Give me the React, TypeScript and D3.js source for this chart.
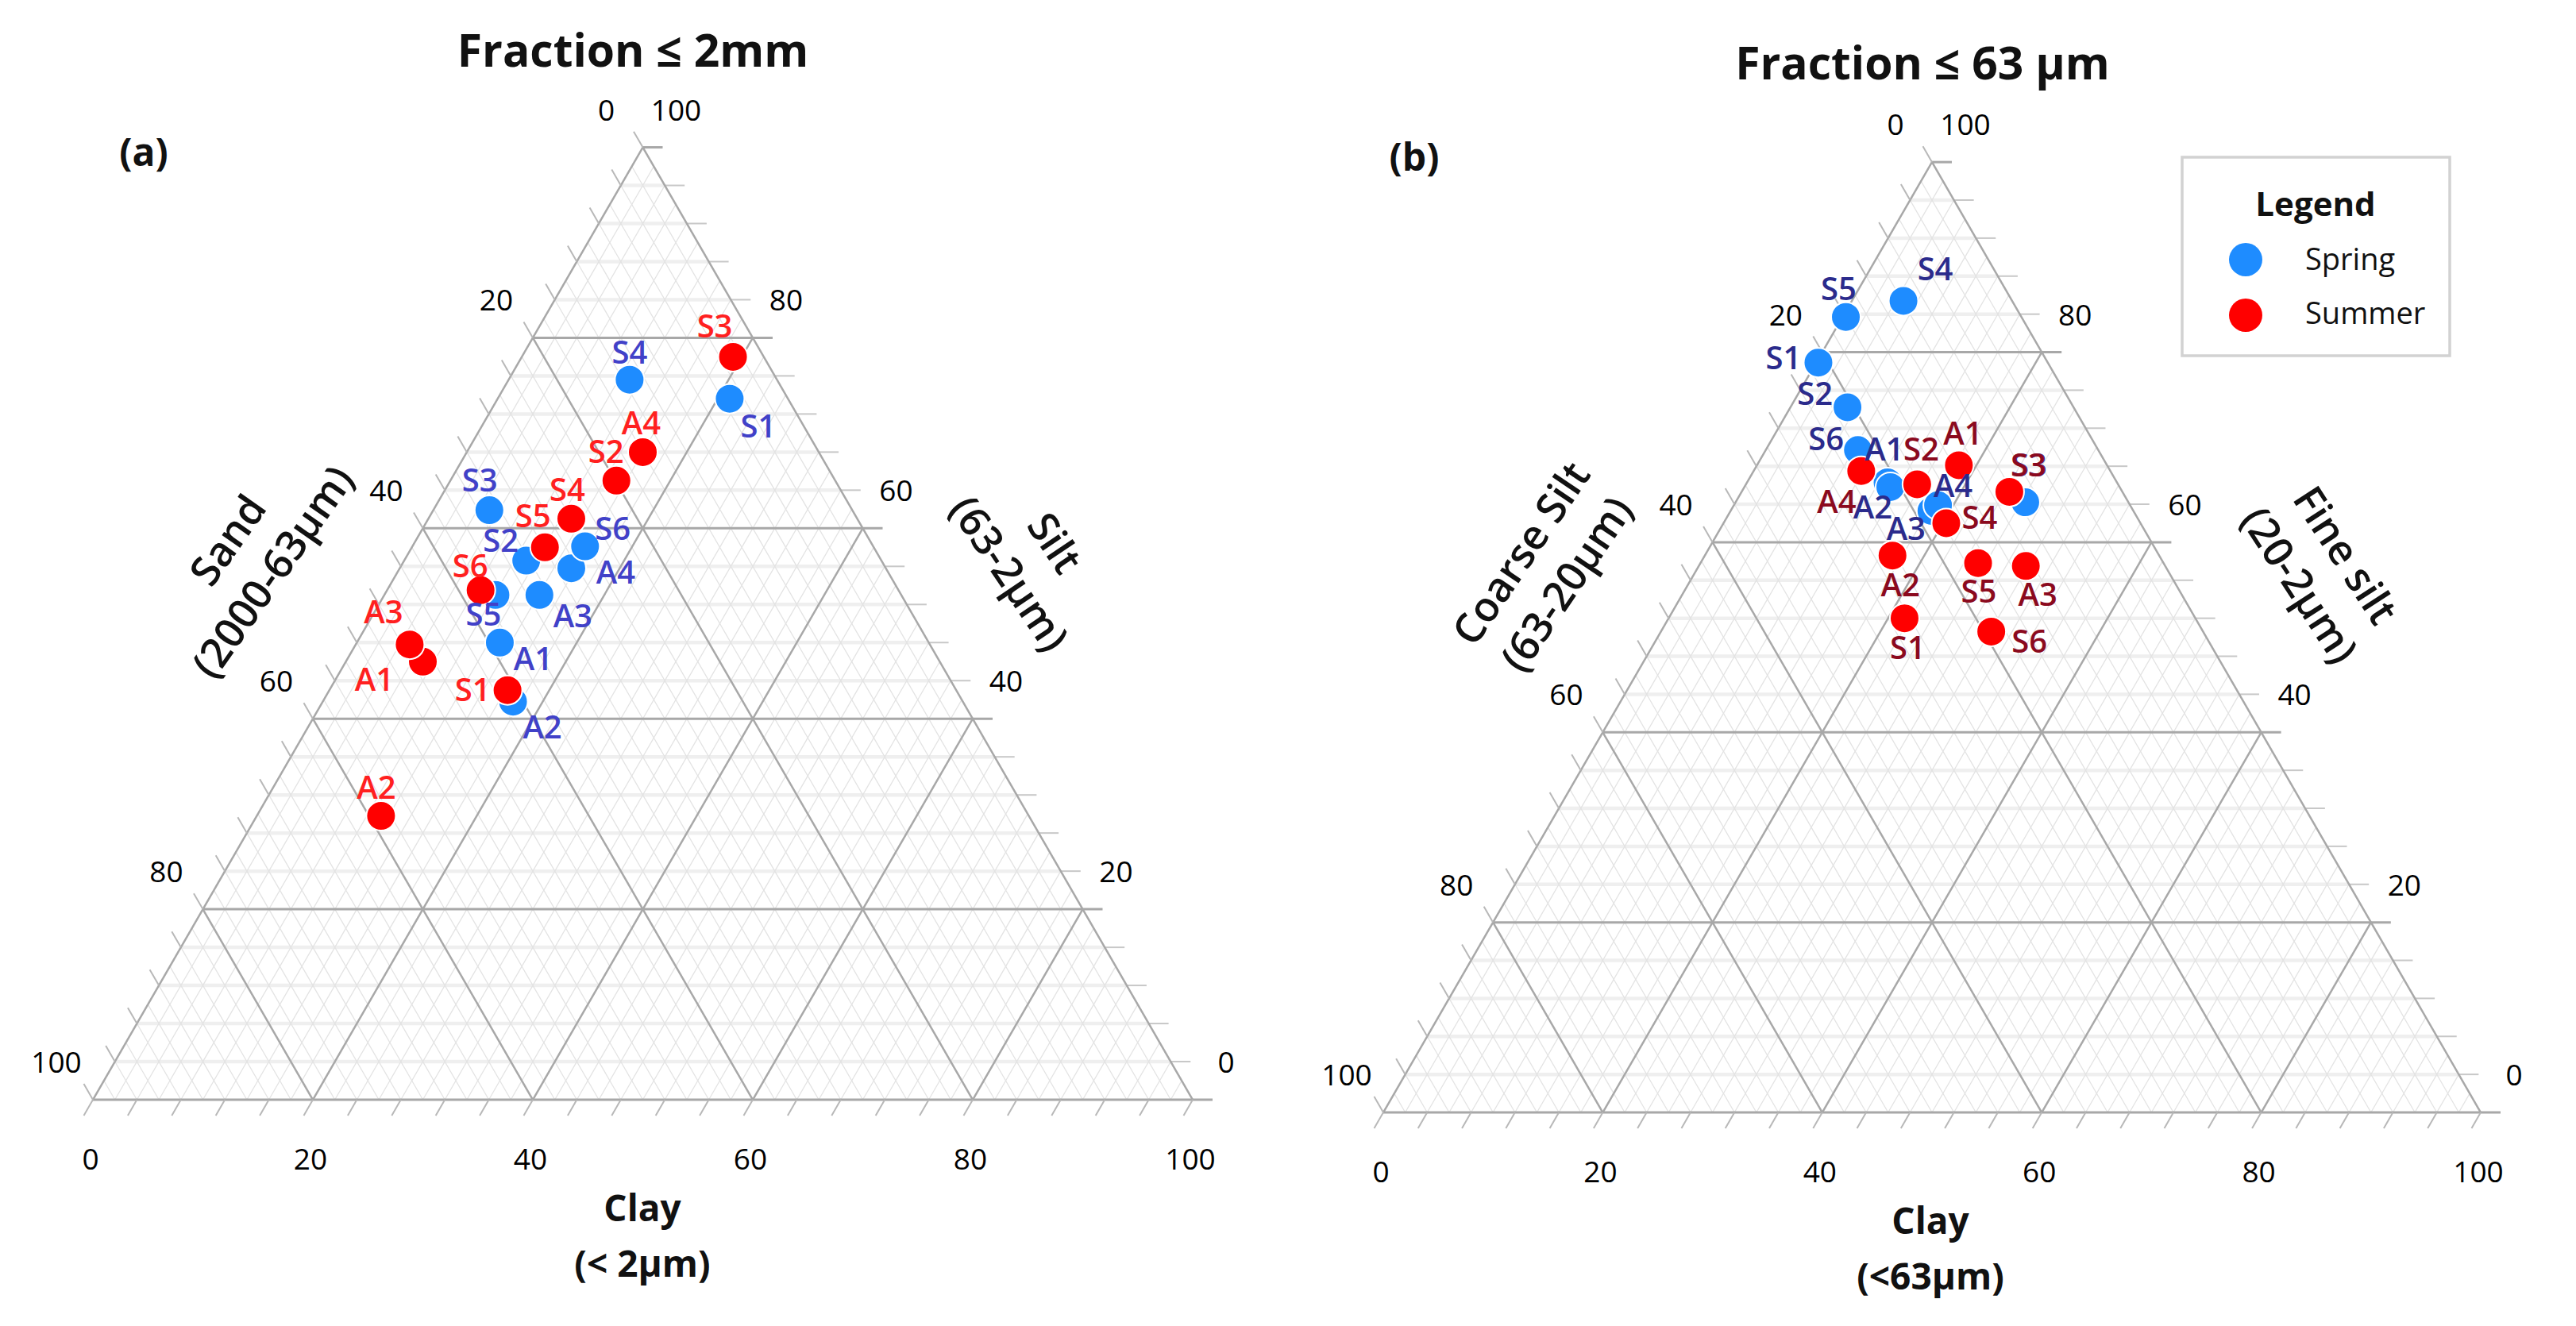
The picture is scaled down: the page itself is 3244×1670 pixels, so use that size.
import React from "react";
import * as d3 from "d3";

// ---------------- DATA ----------------
const SAMPLE_IDS = ["S1", "S2", "S3", "S4", "S5", "S6", "A1", "A2", "A3", "A4"];
const DRAW_ORDER = ["A1", "A2", "A3", "A4", "S1", "S2", "S3", "S4", "S5", "S6"];
const TICK_VALUES = [0, 20, 40, 60, 80, 100];
const SERIES_NAMES = ["Spring", "Summer"];

// Panel (a): Fraction <= 2mm  (clay bottom, silt right/vertical, sand left)
const A_SPRING_CLAY = [21.1, 11.1, 5.1, 11.0, 10.1, 15.7, 13.0, 17.3, 14.1, 15.6];
const A_SPRING_SILT = [73.6, 56.6, 61.9, 75.6, 53.0, 58.1, 48.0, 41.8, 53.0, 55.8];
const A_SPRING_SAND = [5.3, 32.3, 33.0, 13.4, 36.9, 26.2, 39.0, 40.9, 32.9, 28.6];
const A_SUMMER_CLAY = [16.2, 15.1, 19.2, 13.0, 12.1, 8.5, 7.0, 11.3, 4.9, 16.0];
const A_SUMMER_SILT = [43.0, 65.0, 78.0, 61.0, 58.0, 53.5, 46.0, 29.8, 47.8, 68.0];
const A_SUMMER_SAND = [40.8, 19.9, 2.8, 26.0, 29.9, 38.0, 47.0, 58.9, 47.3, 16.0];

// Panel (b): Fraction <= 63 µm (clay bottom, fine silt right/vertical, coarse silt left)
const B_SPRING_CLAY = [0.2, 5.2, 26.4, 4.7, 0.3, 8.4, 12.8, 13.3, 18.3, 18.6];
const B_SPRING_FINE = [78.9, 74.2, 64.2, 85.4, 83.7, 69.7, 66.3, 65.8, 63.3, 63.9];
const B_SPRING_COARSE = [20.9, 20.6, 9.4, 9.9, 16.0, 21.9, 20.9, 20.9, 18.4, 17.5];
const B_SUMMER_CLAY = [21.5, 15.6, 24.4, 20.3, 25.3, 30.1, 18.4, 17.1, 29.8, 9.8];
const B_SUMMER_FINE = [52.0, 66.1, 65.3, 62.0, 57.8, 50.6, 68.1, 58.6, 57.5, 67.5];
const B_SUMMER_COARSE = [26.5, 18.3, 10.3, 17.7, 16.9, 19.3, 13.5, 24.3, 12.7, 22.7];

// label placement (offset of label centre from its point, px)
const A_SPRING_LABEL_DX = [36, -32, -12, 0, -15, 35, 42, 37, 42, 56];
const A_SPRING_LABEL_DY = [35, -25, -38, -34, 25, -22, 21, 32, 27, 5];
const A_SUMMER_LABEL_DX = [-44, -13, -23, -5, -15, -13, -61, -6, -33, -2];
const A_SUMMER_LABEL_DY = [0, -36, -38, -36, -39, -30, 23, -36, -41, -36];
const B_SPRING_LABEL_DX = [-44, -41, 5, 40, -9, -40, -4, -22, -32, 19];
const B_SPRING_LABEL_DY = [-6, -17, -47, -40, -35, -14, -41, 26, 23, -24];
const B_SUMMER_LABEL_DX = [4, 5, 24, 42, 1, 48, 5, 10, 15, -31];
const B_SUMMER_LABEL_DY = [37, -44, -33, -7, 36, 13, -40, 37, 36, 39];

// ---------------- STYLE ----------------
const FONT = "'Open Sans', 'DejaVu Sans', sans-serif";
const SPRING_FILL = "#1E8CFF";
const SUMMER_FILL = "#FF0000";
const MAJOR = "#a8a8a8";
const MINOR_DIAG = "#e3e3e3";
const MINOR_HORIZ = "#efefef";

type PanelCfg = {
  left: number;
  base: number;
  side: number;
  title: string;
  titleX: number;
  titleY: number;
  tag: string;
  tagX: number;
  tagY: number;
  leftTitle: [string, string];
  leftCx: number;
  leftCy: number;
  leftAngle: number;
  rightTitle: [string, string];
  rightCx: number;
  rightCy: number;
  rightAngle: number;
  bottomTitle: [string, string];
  bottomX: number;
  bottomY: number;
  springLabelColor: string;
  summerLabelColor: string;
};

type Series = {
  name: string;
  bottom: number[];
  vert: number[];
  leftv: number[];
  dx: number[];
  dy: number[];
  fill: string;
  labelColor: string;
};

function Ternary({ cfg, series }: { cfg: PanelCfg; series: Series[] }) {
  const H = (cfg.side * Math.sqrt(3)) / 2;
  const xs = d3.scaleLinear().domain([0, 100]).range([cfg.left, cfg.left + cfg.side]);
  const ys = d3.scaleLinear().domain([0, 100]).range([cfg.base, cfg.base - H]);
  // bottom component b, vertical component v
  const P = (b: number, v: number): [number, number] => [xs(b + v / 2), ys(v)];
  const line = d3.line();

  const minor: React.ReactNode[] = [];
  const grid: React.ReactNode[] = [];
  const steps2 = d3.range(2, 100, 2);
  // constant clay (parallel to left edge)
  steps2.forEach((c) => {
    const major = c % 20 === 0;
    (major ? grid : minor).push(
      <path key={`c${c}`} d={line([P(c, 0), P(c, 100 - c)])!} stroke={major ? MAJOR : MINOR_DIAG} strokeWidth={major ? 2.5 : 1.3} fill="none" />
    );
  });
  // constant left-component (parallel to right edge)
  steps2.forEach((d) => {
    const major = d % 20 === 0;
    (major ? grid : minor).push(
      <path key={`d${d}`} d={line([P(100 - d, 0), P(0, 100 - d)])!} stroke={major ? MAJOR : MINOR_DIAG} strokeWidth={major ? 2.5 : 1.3} fill="none" />
    );
  });
  // horizontal (constant vertical component)
  const horiz: React.ReactNode[] = [];
  d3.range(0, 101, 4).forEach((v) => {
    const major = v % 20 === 0;
    const a = P(0, v);
    const b = P(100 - v, v);
    const ext: [number, number] = [b[0] + 25, b[1]];
    if (!major) {
      horiz.push(<path key={`h${v}`} d={line([a, b])!} stroke={MINOR_HORIZ} strokeWidth={4.5} fill="none" />);
      grid.push(<path key={`ht${v}`} d={line([b, ext])!} stroke="#c8c8c8" strokeWidth={2} fill="none" />);
    } else {
      grid.push(<path key={`h${v}`} d={line([a, ext])!} stroke={MAJOR} strokeWidth={3} fill="none" />);
    }
  });
  // edges
  grid.push(<path key="eL" d={line([P(0, 0), P(0, 100)])!} stroke={MAJOR} strokeWidth={2.5} fill="none" />);
  grid.push(<path key="eR" d={line([P(100, 0), P(0, 100)])!} stroke={MAJOR} strokeWidth={2.5} fill="none" />);
  // ticks
  const TL = 23;
  d3.range(0, 101, 4).forEach((c) => {
    const p = P(c, 0);
    grid.push(<path key={`bt${c}`} d={line([p, [p[0] - 0.5 * TL, p[1] + 0.866 * TL]])!} stroke="#b8b8b8" strokeWidth={2} fill="none" />);
    const q = P(0, 100 - c);
    grid.push(<path key={`lt${c}`} d={line([q, [q[0] - 0.5 * TL, q[1] - 0.866 * TL]])!} stroke="#b8b8b8" strokeWidth={2} fill="none" />);
  });

  const tickText: React.ReactNode[] = [];
  TICK_VALUES.forEach((v) => {
    const pb = P(v, 0);
    tickText.push(
      <text key={`tb${v}`} x={pb[0] - 3} y={pb[1] + 75 + 13} textAnchor="middle" fontSize={37} fontFamily={FONT} fill="#000">{v}</text>
    );
    const pl = P(0, 100 - v);
    tickText.push(
      <text key={`tl${v}`} x={pl[0] - 46} y={pl[1] - 47 + 13} textAnchor="middle" fontSize={37} fontFamily={FONT} fill="#000">{v}</text>
    );
    const pr = P(100 - v, v);
    tickText.push(
      <text key={`tr${v}`} x={pr[0] + 42} y={pr[1] - 47 + 13} textAnchor="middle" fontSize={37} fontFamily={FONT} fill="#000">{v}</text>
    );
  });

  const dots: React.ReactNode[] = [];
  const labels: React.ReactNode[] = [];
  series.forEach((s) => {
    DRAW_ORDER.forEach((id) => {
      const i = SAMPLE_IDS.indexOf(id);
      const p = P(s.bottom[i], s.vert[i]);
      dots.push(<circle key={`${s.name}${id}`} cx={p[0]} cy={p[1]} r={18.5} fill={s.fill} stroke="#fff" strokeWidth={2} />);
      labels.push(
        <text key={`l${s.name}${id}`} x={p[0] + s.dx[i]} y={p[1] + s.dy[i] + 14} textAnchor="middle" fontSize={40} fontWeight={600} fontFamily={FONT} fill={s.labelColor}>{id}</text>
      );
    });
  });

  const sideTitle = (lines: [string, string], cx: number, cy: number, ang: number, key: string) => (
    <g key={key} transform={`translate(${cx},${cy}) rotate(${ang})`}>
      <text x={0} y={-34 + 18} textAnchor="middle" fontSize={52} fontWeight={600} fontFamily={FONT} fill="#111">{lines[0]}</text>
      <text x={0} y={35 + 18} textAnchor="middle" fontSize={52} fontWeight={600} fontFamily={FONT} fill="#111">{lines[1]}</text>
    </g>
  );

  return (
    <g>
      <g>{horiz}</g>
      <g>{minor}</g>
      <g>{grid}</g>
      <g>{tickText}</g>
      <g>{dots}</g>
      <g>{labels}</g>
      <text x={cfg.titleX} y={cfg.titleY} textAnchor="middle" fontSize={57} fontWeight={700} fontFamily={FONT} fill="#111">{cfg.title}</text>
      <text x={cfg.tagX} y={cfg.tagY} textAnchor="middle" fontSize={48} fontWeight={700} fontFamily={FONT} fill="#111">{cfg.tag}</text>
      {sideTitle(cfg.leftTitle, cfg.leftCx, cfg.leftCy, cfg.leftAngle, "lt")}
      {sideTitle(cfg.rightTitle, cfg.rightCx, cfg.rightCy, cfg.rightAngle, "rt")}
      <text x={cfg.bottomX} y={cfg.bottomY} textAnchor="middle" fontSize={46} fontWeight={700} fontFamily={FONT} fill="#111">{cfg.bottomTitle[0]}</text>
      <text x={cfg.bottomX} y={cfg.bottomY + 70} textAnchor="middle" fontSize={46} fontWeight={700} fontFamily={FONT} fill="#111">{cfg.bottomTitle[1]}</text>
    </g>
  );
}

const PANEL_A: PanelCfg = {
  left: 117, base: 1385, side: 1385,
  title: "Fraction ≤ 2mm", titleX: 797, titleY: 84,
  tag: "(a)", tagX: 181, tagY: 209,
  leftTitle: ["Sand", "(2000-63µm)"], leftCx: 315, leftCy: 700, leftAngle: -55,
  rightTitle: ["Silt", "(63-2µm)"], rightCx: 1300, rightCy: 703, rightAngle: 56,
  bottomTitle: ["Clay", "(< 2µm)"], bottomX: 809, bottomY: 1538,
  springLabelColor: "#4141C8", summerLabelColor: "#FF2020",
};

const PANEL_B: PanelCfg = {
  left: 1742, base: 1401, side: 1382,
  title: "Fraction ≤ 63 µm", titleX: 2421, titleY: 100,
  tag: "(b)", tagX: 1781, tagY: 215,
  leftTitle: ["Coarse Silt", "(63-20µm)"], leftCx: 1944, leftCy: 716, leftAngle: -56,
  rightTitle: ["Fine silt", "(20-2µm)"], rightCx: 2925, rightCy: 718, rightAngle: 57,
  bottomTitle: ["Clay", "(<63µm)"], bottomX: 2431, bottomY: 1554,
  springLabelColor: "#2B2B8C", summerLabelColor: "#8B0A1E",
};

export default function App() {
  const seriesA: Series[] = [
    { name: SERIES_NAMES[0], bottom: A_SPRING_CLAY, vert: A_SPRING_SILT, leftv: A_SPRING_SAND, dx: A_SPRING_LABEL_DX, dy: A_SPRING_LABEL_DY, fill: SPRING_FILL, labelColor: PANEL_A.springLabelColor },
    { name: SERIES_NAMES[1], bottom: A_SUMMER_CLAY, vert: A_SUMMER_SILT, leftv: A_SUMMER_SAND, dx: A_SUMMER_LABEL_DX, dy: A_SUMMER_LABEL_DY, fill: SUMMER_FILL, labelColor: PANEL_A.summerLabelColor },
  ];
  const seriesB: Series[] = [
    { name: SERIES_NAMES[0], bottom: B_SPRING_CLAY, vert: B_SPRING_FINE, leftv: B_SPRING_COARSE, dx: B_SPRING_LABEL_DX, dy: B_SPRING_LABEL_DY, fill: SPRING_FILL, labelColor: PANEL_B.springLabelColor },
    { name: SERIES_NAMES[1], bottom: B_SUMMER_CLAY, vert: B_SUMMER_FINE, leftv: B_SUMMER_COARSE, dx: B_SUMMER_LABEL_DX, dy: B_SUMMER_LABEL_DY, fill: SUMMER_FILL, labelColor: PANEL_B.summerLabelColor },
  ];

  return (
    <svg
      width={3244}
      height={1670}
      viewBox="0 0 3244 1670"
      style={{ position: "absolute", left: 0, top: 0, display: "block", background: "#fff" }}
    >
      <rect x={0} y={0} width={3244} height={1670} fill="#fff" />
      <Ternary cfg={PANEL_A} series={seriesA} />
      <Ternary cfg={PANEL_B} series={seriesB} />
      {/* Legend */}
      <g>
        <rect x={2748} y={198} width={337} height={250} fill="#fff" stroke="#d2d2d2" strokeWidth={3.5} />
        <text x={2916} y={272} textAnchor="middle" fontSize={42} fontWeight={700} fontFamily={FONT} fill="#111">Legend</text>
        <circle cx={2828} cy={327} r={21} fill={SPRING_FILL} />
        <text x={2903} y={340} fontSize={38} fontFamily={FONT} fill="#111">{SERIES_NAMES[0]}</text>
        <circle cx={2828} cy={397} r={21} fill={SUMMER_FILL} />
        <text x={2903} y={408} fontSize={38} fontFamily={FONT} fill="#111">{SERIES_NAMES[1]}</text>
      </g>
    </svg>
  );
}
